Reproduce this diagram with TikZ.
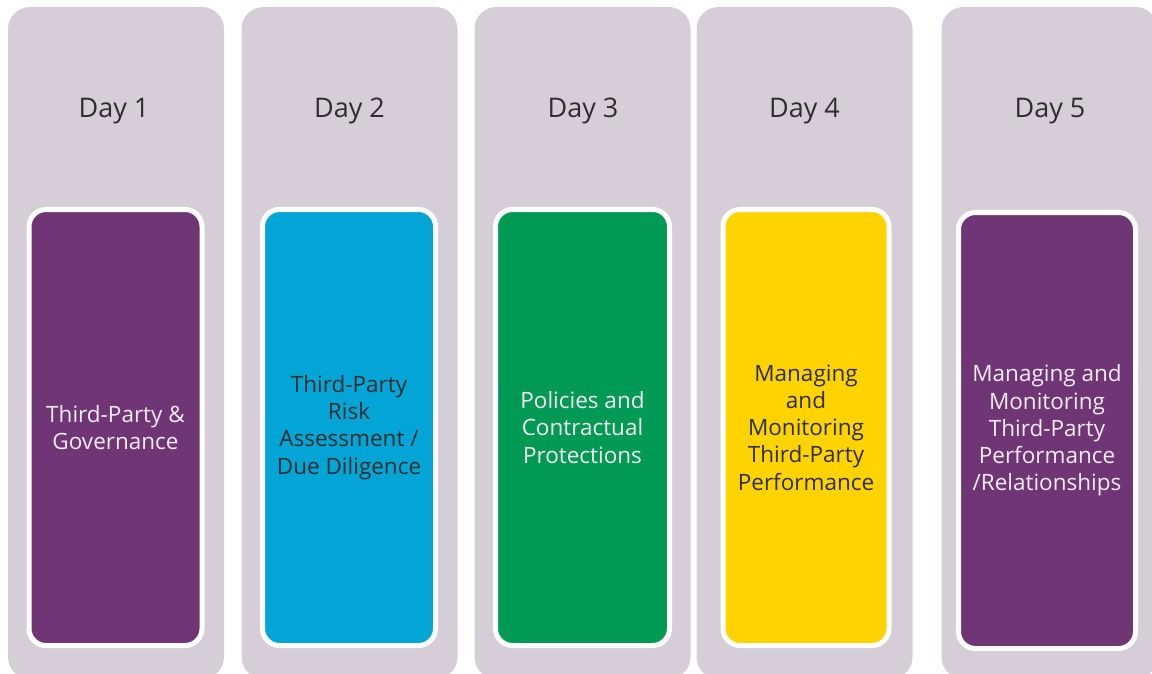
\documentclass[tikz,border=0pt]{standalone}
\usepackage{fontspec}
\setmainfont{Open Sans}
\usepackage{tikz}
\usetikzlibrary{positioning}
\definecolor{colgrey}{HTML}{D5CED6}
\definecolor{dayplum}{HTML}{6F3574}
\definecolor{daycyan}{HTML}{02A5D5}
\definecolor{daygreen}{HTML}{009A55}
\definecolor{dayyellow}{HTML}{FFD300}
\definecolor{darktext}{HTML}{2E2E2E}
\definecolor{lighttext}{HTML}{F2ECF3}
\tikzset{
    column/.style = {
        shape=rectangle,
        fill=colgrey,
        rounded corners=22pt,
        minimum width=216pt,
        minimum height=672pt,
        inner sep=0pt
    },
    daylabel/.style = {
        anchor=base,
        text=darktext,
        font=\fontsize{27}{31}\selectfont
    },
    topic/.style = {
        draw=white,
        shape=rectangle,
        line width=5pt,
        rounded corners=17pt,
        minimum height=436pt,
        align=center,
        inner sep=0pt,
        font=\fontsize{22.5}{27.3}\selectfont
    },
}

\begin{document}
\begin{tikzpicture}[x=1pt,y=-1pt]
    \useasboundingbox (0,0) rectangle (1152,674);
    \clip (0,0) rectangle (1152,674);

    \node[column] (col1) at (116,343) {};
    \node[column] (col2) at (349.5,343) {};
    \node[column] (col3) at (582.5,343) {};
    \node[column] (col4) at (804.5,343) {};
    \node[column] (col5) at (1049.5,343) {};

    \node[daylabel] (day1) at (114,118) {Day 1};
    \node[daylabel] (day2) at (349.5,118) {Day 2};
    \node[daylabel] (day3) at (583,118) {Day 3};
    \node[daylabel] (day4) at (804.5,118) {Day 4};
    \node[daylabel] (day5) at (1050,118) {Day 5};

    \node[topic, fill=dayplum, text=lighttext, minimum width=173pt] (topic1) at (115.5,427.5)
        {Third-Party \&\\Governance};
    \node[topic, fill=daycyan, text=darktext, minimum width=173pt] (topic2) at (349,427.5)
        {Third-Party\\Risk\\Assessment /\\Due Diligence};
    \node[topic, fill=daygreen, text=lighttext, minimum width=174pt] (topic3) at (582.5,427.5)
        {Policies and\\Contractual\\Protections};
    \node[topic, fill=dayyellow, text=darktext, minimum width=166pt] (topic4) at (806,427.5)
        {Managing\\and\\Monitoring\\Third-Party\\Performance};
    \node[topic, fill=dayplum, text=lighttext, minimum width=177pt] (topic5) at (1047,430.5)
        {Managing and\\Monitoring\\Third-Party\\Performance\\/Relationships};
\end{tikzpicture}
\end{document}
